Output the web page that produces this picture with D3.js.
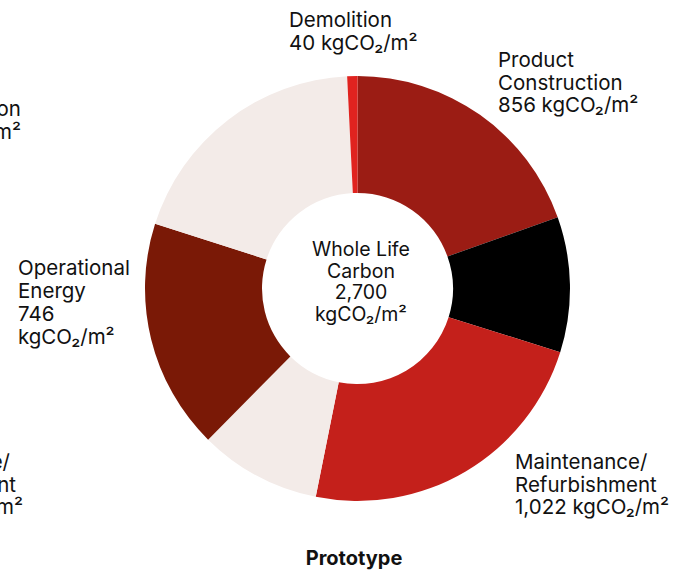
<!DOCTYPE html>
<html>
<head>
<meta charset="utf-8">
<script src="https://cdn.jsdelivr.net/npm/d3@7"></script>
<style>
  body { margin: 0; background: #fff; }
  svg { display: block; font-family: Inter, "Noto Sans", sans-serif; }
</style>
</head>
<body>
<div id="chart"></div>
<script>
// Chart size
var w = 683;
var h = 573;

// Donut slices, clockwise from 12 o'clock
var sliceNames = ["Product", "Construction", "Maintenance", "Refurbishment", "Operational Energy", "Other", "Demolition"];
var sliceValues = [528, 278, 629, 250, 473, 521, 21];
var sliceColors = ["#9b1c14", "#000000", "#c4201b", "#f3ebe8", "#7a1906", "#f3ebe8", "#e0231f"];

// Labels (lines of text)
var centerLines = ["Whole Life", "Carbon", "2,700", "kgCO₂/m²"];
var labelDemolition = ["Demolition", "40 kgCO₂/m²"];
var labelProduct = ["Product", "Construction", "856 kgCO₂/m²"];
var labelOperational = ["Operational", "Energy", "746", "kgCO₂/m²"];
var labelMaintenance = ["Maintenance/", "Refurbishment", "1,022 kgCO₂/m²"];
// pieces of the neighbouring chart's labels, cut by the left edge
var cutTopLeft = ["Construction", "kgCO₂/m²"];
var cutBottomLeft = ["Maintenance/", "Refurbishment", "kgCO₂/m²"];
var title = "Prototype";

var cx = 357.5;
var cy = 288.5;
var outerR = 212.5;
var innerR = 95.5;

var svg = d3.select("#chart")
    .append("svg")
    .attr("width", w)
    .attr("height", h);

var pie = d3.pie()
    .sort(null)
    .value(function(d) { return d; });

var arc = d3.arc()
    .innerRadius(innerR)
    .outerRadius(outerR);

svg.append("g")
    .attr("transform", "translate(" + cx + "," + cy + ")")
    .selectAll("path")
    .data(pie(sliceValues))
    .enter()
    .append("path")
    .attr("d", arc)
    .attr("fill", function(d, i) { return sliceColors[i]; });

// helper: multi-line text block, x can be one number or one per line
function block(lines, x, y, anchor, lineH, size) {
    var t = svg.append("text")
        .attr("font-size", size)
        .attr("fill", "#111")
        .attr("text-anchor", anchor);
    t.selectAll("tspan")
        .data(lines)
        .enter()
        .append("tspan")
        .attr("x", function(d, i) { return Array.isArray(x) ? x[i] : x; })
        .attr("y", function(d, i) { return y + i * lineH; })
        .text(function(d) { return d; });
    return t;
}

block(centerLines, 361, 256, "middle", 21.5, 19.5);
block(labelDemolition, 289, 27, "start", 22.5, 20.5);
block(labelProduct, 498, 67, "start", 22.5, 20.5);
block(labelOperational, 18, 275, "start", 23, 20.5);
block(labelMaintenance, 515, 469, "start", 22.5, 20.5);
block(cutTopLeft, 21, 116, "end", 23, 20.5);
block(cutBottomLeft, [10, 16, 23], 469, "end", 22.5, 20.5);

svg.append("text")
    .attr("x", 354)
    .attr("y", 565)
    .attr("text-anchor", "middle")
    .attr("font-size", 20)
    .attr("font-weight", "bold")
    .attr("fill", "#111")
    .text(title);
</script>
</body>
</html>
